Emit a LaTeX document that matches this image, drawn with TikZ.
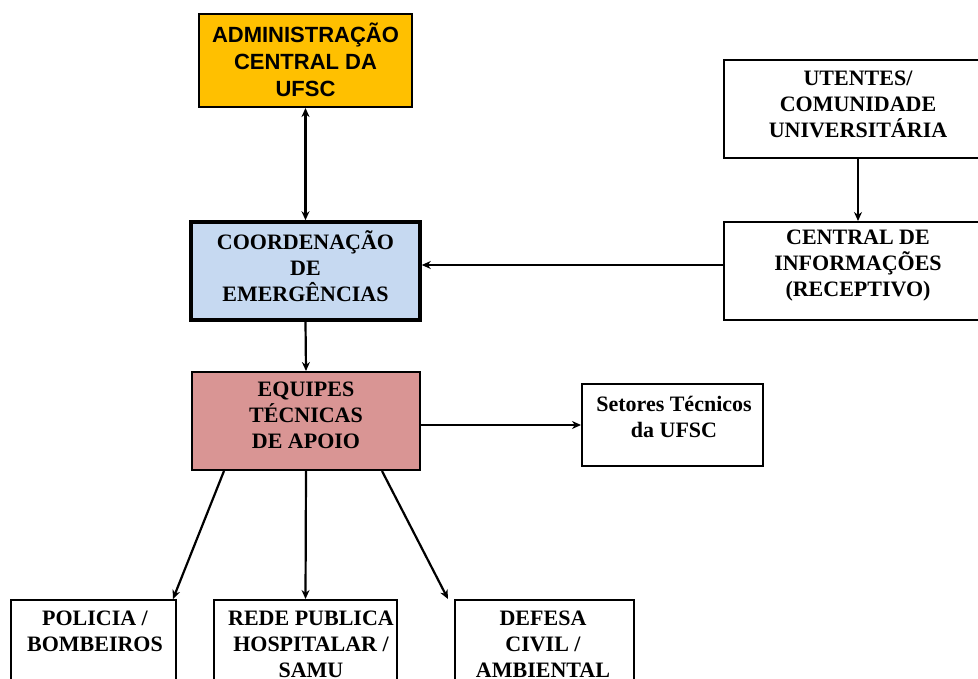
\documentclass[tikz,border=0pt]{standalone}
\usepackage{fontspec}
\setmainfont{Liberation Serif}
\newfontfamily\arialfont{Liberation Sans}
\usetikzlibrary{arrows.meta}
\definecolor{adminfill}{RGB}{255,192,0}
\definecolor{coordfill}{RGB}{198,217,241}
\definecolor{equipfill}{RGB}{217,149,148}
\tikzset{
  box/.style={draw=black, line width=2pt, rectangle, inner sep=0pt},
  txt/.style={align=center, font=\fontsize{22}{26}\selectfont\bfseries, inner sep=0pt},
  atxt/.style={align=center, font=\arialfont\fontsize{22}{27}\selectfont\bfseries, inner sep=0pt},
  conn/.style={line width=2.2pt, -{Stealth[length=9pt,width=8pt]}},
  bconn/.style={line width=2.2pt, {Stealth[length=9pt,width=8pt]}-{Stealth[length=9pt,width=8pt]}},
}
\begin{document}
\begin{tikzpicture}[x=1pt,y=-1pt]
\useasboundingbox (0,0) rectangle (978,679);
\clip (0,0) rectangle (978,679);
% boxes
\node[box, fill=adminfill, minimum width=213pt, minimum height=93pt] (admin) at (305.5,60.5) {};
\node[box, fill=coordfill, line width=3.6pt, minimum width=229pt, minimum height=98pt] (coord) at (305.5,271) {};
\node[box, fill=equipfill, minimum width=228pt, minimum height=98pt] (equip) at (306,421) {};
\node[box, minimum width=268pt, minimum height=98pt] (utentes) at (858,109) {};
\node[box, minimum width=268pt, minimum height=98pt] (central) at (858,271) {};
\node[box, minimum width=181pt, minimum height=82pt] (setores) at (672.5,425) {};
\node[box, minimum width=165pt, minimum height=120pt] (policia) at (93.5,660) {};
\node[box, minimum width=183pt, minimum height=120pt] (rede) at (305.5,660) {};
\node[box, minimum width=179pt, minimum height=120pt] (defesa) at (544.5,660) {};
% texts
\node[atxt] (tadmin) at (305.5,59.5) {ADMINISTRAÇÃO\\CENTRAL DA\\UFSC};
\node[txt] (tcoord) at (305.5,266) {COORDENAÇÃO\\DE\\EMERGÊNCIAS};
\node[txt] (tequip) at (306,415) {EQUIPES\\TÉCNICAS\\DE APOIO};
\node[txt] (tutentes) at (858,104) {UTENTES/\\COMUNIDADE\\UNIVERSITÁRIA};
\node[txt] (tcentral) at (858,266) {CENTRAL DE\\INFORMAÇÕES\\(RECEPTIVO)};
\node[txt] (tsetores) at (674,416.5) {Setores Técnicos\\da UFSC};
\node[txt] (tpolicia) at (95,631.5) {POLICIA /\\BOMBEIROS};
\node[txt] (trede) at (311,644) {REDE PUBLICA\\HOSPITALAR /\\SAMU};
\node[txt] (tdefesa) at (543,644) {DEFESA\\CIVIL /\\AMBIENTAL};
% connectors
\draw[bconn] (admin.south) -- (coord.north);
\draw[conn] (coord.south) -- (equip.north);
\draw[conn] (utentes.south) -- (central.north);
\draw[conn] ([yshift=6pt]central.west) -- ([yshift=6pt]coord.east);
\draw[conn] (equip.east |- setores.west) -- (setores.west);
\draw[conn] ([xshift=33pt]equip.south west) -- ([xshift=-4pt]policia.north east);
\draw[conn] (equip.south) -- (rede.north);
\draw[conn] ([xshift=-39pt]equip.south east) -- ([xshift=-6pt]defesa.north west);
\end{tikzpicture}
\end{document}
